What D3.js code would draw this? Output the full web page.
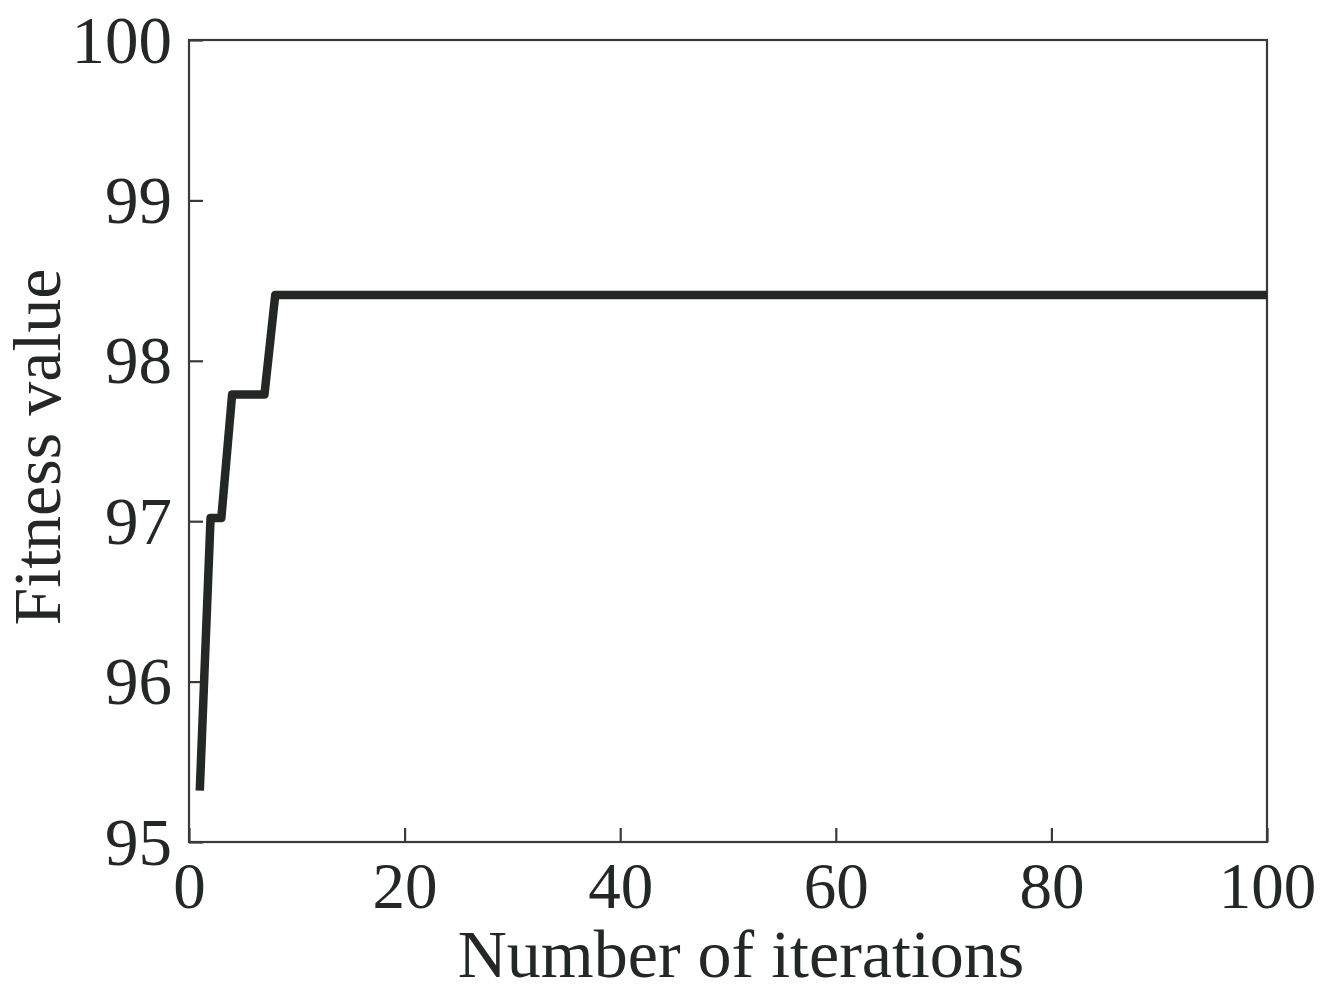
<!DOCTYPE html>
<html><head><meta charset="utf-8">
<script src="https://cdn.jsdelivr.net/npm/d3@7"></script>
<style>body{margin:0;background:#fff}svg{display:block}</style>
</head><body>
<svg id="c" width="1322" height="992"></svg>
<script>
const iterations = d3.range(1, 101);
const stepIters = [1, 2, 3, 4, 7, 8, 100];
const stepValues = [95.32, 97.02, 97.02, 97.79, 97.79, 98.41, 98.41];
const xTicks = [0, 20, 40, 60, 80, 100];
const yTicks = [95, 96, 97, 98, 99, 100];

// fitness per iteration: value held constant between the read-off points
const fitness = iterations.map(it => {
  let v = stepValues[0];
  for (let i = 0; i < stepIters.length; i++) if (stepIters[i] <= it) v = stepValues[i];
  return v;
});

const svg = d3.select("#c");
const L = 189, R = 1267, T = 40, B = 842;
const x = d3.scaleLinear().domain([0, 100]).range([L, R]);
const y = d3.scaleLinear().domain([95, 100]).range([B, T]);
const font = "'Liberation Serif', 'Times New Roman', serif";
const ink = "#232825";

// frame
svg.append("rect").attr("x", L).attr("y", T).attr("width", R - L).attr("height", B - T)
  .attr("fill", "none").attr("stroke", "#3a3a3a").attr("stroke-width", 2.2);

// axes
const xAxis = svg.append("g").attr("transform", `translate(0,${B})`)
  .call(d3.axisBottom(x).tickValues(xTicks).tickFormat(d3.format("d"))
    .tickSizeInner(-14).tickSizeOuter(0));
const yAxis = svg.append("g").attr("transform", `translate(${L},0)`)
  .call(d3.axisLeft(y).tickValues(yTicks).tickFormat(d3.format("d"))
    .tickSizeInner(-14).tickSizeOuter(0).tickPadding(17));
[xAxis, yAxis].forEach(g => {
  g.select(".domain").remove();
  g.selectAll(".tick line").attr("stroke", "#3a3a3a").attr("stroke-width", 2.2);
  g.selectAll(".tick text").attr("fill", ink).attr("font-family", font).attr("font-size", 67);
});
xAxis.selectAll(".tick text").attr("dy", null).attr("y", 66).attr("font-size", 65);
yAxis.selectAll(".tick text").attr("dy", "0.33em");

// line
svg.append("path").datum(iterations)
  .attr("fill", "none").attr("stroke", ink).attr("stroke-width", 8.5)
  .attr("stroke-linejoin", "round").attr("stroke-linecap", "butt")
  .attr("d", d3.line().x(d => x(d)).y((d, i) => y(fitness[i]))(iterations));

// axis titles
svg.append("text").attr("x", 741).attr("y", 977).attr("text-anchor", "middle")
  .attr("font-family", font).attr("font-size", 68).attr("fill", ink).text("Number of iterations");
svg.append("text").attr("transform", "translate(60,447) rotate(-90)").attr("text-anchor", "middle")
  .attr("font-family", font).attr("font-size", 68).attr("fill", ink).text("Fitness value");
</script>
</body></html>
